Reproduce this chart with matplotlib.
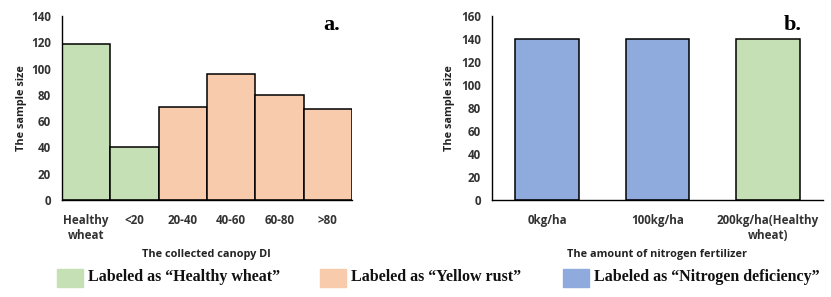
import numpy as np
import matplotlib
matplotlib.use("Agg")
import matplotlib.pyplot as plt
from matplotlib.patches import Rectangle
from matplotlib.font_manager import FontProperties

# panel a: canopy DI classes
di_labels = ["Healthy\nwheat", "<20", "20-40", "40-60", "60-80", ">80"]
di_counts = [119, 40, 71, 96, 80, 69]
di_class = ["healthy", "healthy", "rust", "rust", "rust", "rust"]

# panel b: nitrogen fertilizer
n_labels = ["0kg/ha", "100kg/ha", "200kg/ha(Healthy\nwheat)"]
n_counts = [140, 140, 140]
n_class = ["nitrogen", "nitrogen", "healthy"]

colors = {"healthy": "#C5E0B4", "rust": "#F8CBAD", "nitrogen": "#8FAADC"}
legend_labels = {"healthy": "Labeled as \u201cHealthy wheat\u201d",
                 "rust": "Labeled as \u201cYellow rust\u201d",
                 "nitrogen": "Labeled as \u201cNitrogen deficiency\u201d"}

W, H = 831, 297
fig = plt.figure(figsize=(W / 100, H / 100), dpi=100)

sans = ["Open Sans", "DejaVu Sans"]
tick_fp = FontProperties(family=sans, weight="bold", size=8.4)
lab_font = dict(family=sans, weight="bold", size=7.8, color="#222222")


def px_axes(x0, y0, x1, y1):
    return fig.add_axes([x0 / W, 1 - y1 / H, (x1 - x0) / W, (y1 - y0) / H])


def style(ax, ymax, step):
    for s in ["top", "right"]:
        ax.spines[s].set_visible(False)
    for s in ["left", "bottom"]:
        ax.spines[s].set_linewidth(1.0)
    ax.set_ylim(0, ymax)
    ax.set_yticks(np.arange(0, ymax + 1, step))
    ax.tick_params(axis="y", length=0, pad=8)
    ax.tick_params(axis="x", length=0, pad=10)
    for t in ax.get_yticklabels() + ax.get_xticklabels():
        t.set_fontproperties(tick_fp)
        t.set_color("#333333")


# panel a
ax1 = px_axes(62, 16, 352, 200)
x1 = np.arange(len(di_counts))
ax1.bar(x1, di_counts, width=1, align="edge",
        color=[colors[c] for c in di_class], edgecolor="black", linewidth=1.1)
ax1.set_xlim(0, len(di_counts))
ax1.set_xticks(x1 + 0.5)
ax1.set_xticklabels(di_labels, linespacing=1.2)
style(ax1, 140, 20)
ax1.set_ylabel("The sample size", fontdict=lab_font)
ax1.yaxis.set_label_coords(-0.122, 0.5)
ax1.text(0.93, 0.95, "a.", transform=ax1.transAxes, ha="center", va="center",
         family="Liberation Serif", weight="bold", size=16)

# panel b
ax2 = px_axes(492, 16, 823, 200)
x2 = np.arange(len(n_counts))
ax2.bar(x2, n_counts, width=0.58,
        color=[colors[c] for c in n_class], edgecolor="black", linewidth=1.1)
ax2.set_xlim(-0.5, len(n_counts) - 0.5)
ax2.set_xticks(x2)
ax2.set_xticklabels(n_labels, linespacing=1.2)
style(ax2, 160, 20)
ax2.set_ylabel("The sample size", fontdict=lab_font)
ax2.yaxis.set_label_coords(-0.111, 0.5)
ax2.text(0.909, 0.95, "b.", transform=ax2.transAxes, ha="center", va="center",
         family="Liberation Serif", weight="bold", size=16)

# axis titles placed below the tick labels
fig.text(206 / W, 1 - 255 / H, "The collected canopy DI", ha="center", va="center", **lab_font)
fig.text(657 / W, 1 - 255 / H, "The amount of nitrogen fertilizer", ha="center", va="center", **lab_font)

# shared legend row
for key, px in [("healthy", 57), ("rust", 320), ("nitrogen", 563)]:
    fig.patches.append(Rectangle((px / W, 1 - 287 / H), 26 / W, 18 / H,
                                 transform=fig.transFigure, color=colors[key]))
    fig.text((px + 31) / W, 1 - 277 / H, legend_labels[key], ha="left", va="center",
             family="Liberation Serif", weight="bold", size=11.5, color="#111111")

fig.savefig("out.png", dpi=100)
